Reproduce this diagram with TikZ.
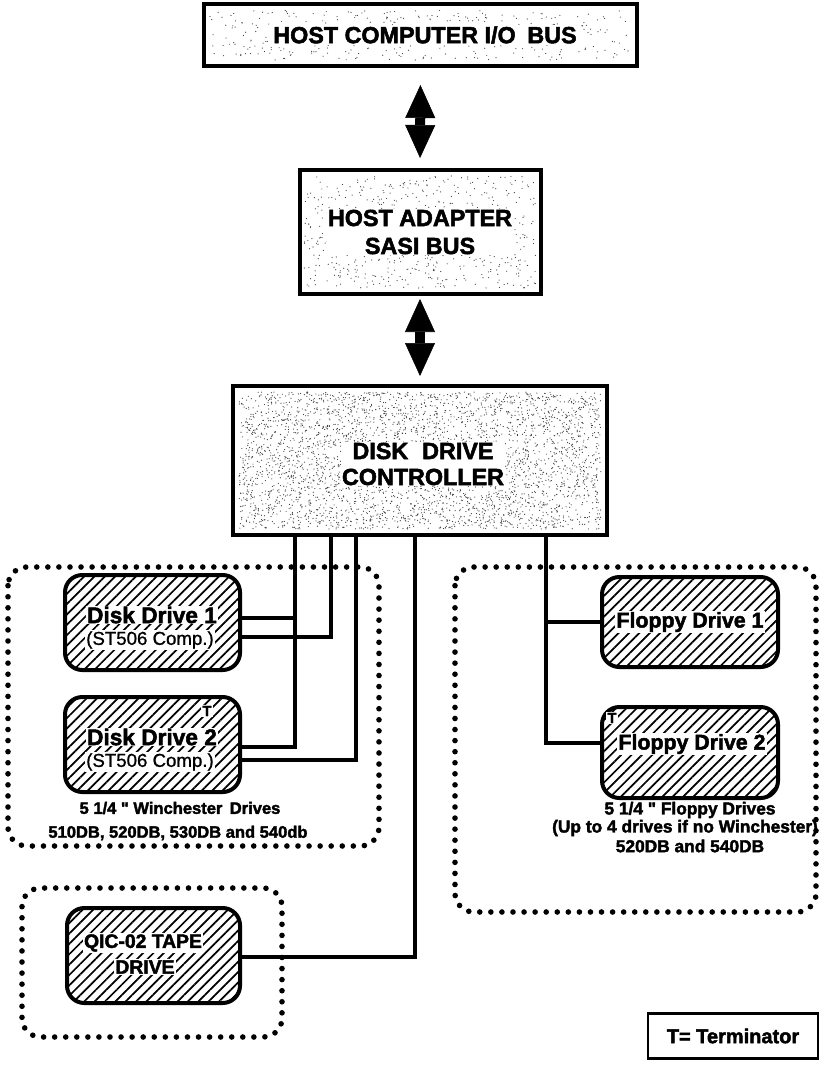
\documentclass[tikz,border=0pt]{standalone}
\usepackage{fontspec}
\setmainfont{Liberation Sans}
\newfontfamily\heavy{Liberation Sans Bold}[FakeBold=2.2]
\newfontfamily\medium{Liberation Sans}[FakeBold=1]
\usetikzlibrary{patterns.meta,calc,arrows.meta}
\newcommand\speckle[5]{%
  \foreach \k in {1,...,#5}{%
    \pgfmathsetmacro\spx{#1+rnd*(#3-#1)}%
    \pgfmathsetmacro\spy{#2+rnd*(#4-#2)}%
    \fill[black!75] (\spx,\spy) circle[radius=0.45pt];
  }}
\begin{document}
\begin{tikzpicture}[x=0.75pt,y=-0.75pt,
  bus/.style={draw, line width=3pt, fill=white, inner sep=0pt},
  hd/.style={font=\heavy\fontsize{17.5}{21}\selectfont, align=center},
  lbl/.style={fill=white, inner sep=0.8pt},
  drive/.style={draw, line width=3pt, rounded corners=13pt,
    pattern={Lines[angle=45,distance=5.5pt,line width=1.3pt]}, inner sep=0pt},
  dname/.style={font=\heavy\fontsize{17}{19}\selectfont},
  dsub/.style={font=\medium\fontsize{14}{16}\selectfont},
  captxt/.style={font=\heavy\fontsize{12.4}{15}\selectfont},
  tmark/.style={font=\heavy\fontsize{11}{12}\selectfont, inner sep=0.5pt},
  conn/.style={line width=2.4pt},
  grp/.style={line width=4.2pt, dash pattern=on 0pt off 8.3pt, line cap=round, rounded corners=14pt},
  dbl/.style={line width=7.5pt,
    {Triangle[length=24.75pt,width=22.5pt,line width=0.4pt]}-{Triangle[length=24.75pt,width=22.5pt,line width=0.4pt]}},
]
\useasboundingbox (0,0) rectangle (821,1065);
\pgfmathsetseed{7}

% dotted group frames
\draw[grp] (8,567) rectangle (379,846);
\draw[grp] (455,567) rectangle (816,912);
\draw[grp] (22,888) rectangle (282,1037);

% host computer bus
\node[bus, minimum width=324.75pt, minimum height=46.5pt] (hostbus) at (420.5,35) {};
\speckle{210}{10}{631}{60}{350}
\node[hd, lbl] (hostbusT) at (425,35) {HOST COMPUTER I/O\hspace{0.5em}BUS};

% host adapter
\node[bus, minimum width=180.75pt, minimum height=93pt] (hostad) at (420,232) {};
\speckle{304}{176}{536}{288}{650}
\node[hd, lbl] (hostadT) at (420,232) {HOST ADAPTER\\SASI BUS};

% controller
\node[bus, minimum width=280.5pt, minimum height=111.75pt] (ctrl) at (420,460.5) {};
\speckle{239}{392}{601}{529}{3800}
\node[hd, lbl, font=\heavy\fontsize{17.5}{19.5}\selectfont] (ctrlT) at (423,464) {DISK\hspace{0.6em}DRIVE\\CONTROLLER};

% double arrows
\draw[dbl, shorten <=12.75pt, shorten >=7.5pt] (hostbus.south) -- (hostad.north);
\draw[dbl, shorten <=2.25pt, shorten >=6pt] (hostad.south) -- (ctrl.north);

% drives
\node[drive, minimum width=131.25pt, minimum height=71.25pt] (dd1) at (152.5,622.5) {};
\node[drive, minimum width=131.25pt, minimum height=71.25pt] (dd2) at (152.5,744.5) {};
\node[drive, minimum width=132pt, minimum height=67.5pt] (fl1) at (690,622) {};
\node[drive, minimum width=132pt, minimum height=68.25pt] (fl2) at (690,752.5) {};
\node[drive, minimum width=129.75pt, minimum height=71.25pt] (tape) at (153.5,955.5) {};

% connectors
\coordinate (v1) at (295,0);
\coordinate (v2) at (331,0);
\coordinate (v3) at (356,0);
\coordinate (v4) at (415,0);
\coordinate (v5) at (546,0);
\coordinate (d1a) at ($(dd1.east)+(0,-4.5)$);
\coordinate (d1b) at ($(dd1.east)+(0,14.5)$);
\coordinate (d2a) at ($(dd2.east)+(0,2.5)$);
\coordinate (d2b) at ($(dd2.east)+(0,15.5)$);
\coordinate (tpa) at ($(tape.east)+(0,1.5)$);
\coordinate (f2a) at ($(fl2.west)+(0,-9.5)$);
\draw[conn, line width=3pt] (ctrl.south -| v1) |- (d2a);
\draw[conn] (v1 |- d1a) -- (d1a);
\draw[conn] (ctrl.south -| v2) |- (d1b);
\draw[conn] (ctrl.south -| v3) |- (d2b);
\draw[conn] (ctrl.south -| v4) |- (tpa);
\draw[conn] (ctrl.south -| v5) |- (f2a);
\draw[conn] (v5 |- fl1.west) -- (fl1.west);

% drive labels
\node[dname, lbl] (dd1a) at (152,615) {Disk Drive 1};
\node[dsub, lbl] (dd1b) at (150,640) {(ST506 Comp.)};
\node[dname, lbl] (dd2a) at (152,737) {Disk Drive 2};
\node[dsub, lbl] (dd2b) at (150,762) {(ST506 Comp.)};
\node[tmark, lbl] (t1) at (207,711) {T};
\node[dname, lbl, font=\heavy\fontsize{16}{18}\selectfont] (fl1a) at (690,622) {Floppy Drive 1};
\node[dname, lbl, font=\heavy\fontsize{16}{18}\selectfont] (fl2a) at (692,744) {Floppy Drive 2};
\node[tmark, lbl] (t2) at (612,718) {T};
\node[dname, lbl, font=\heavy\fontsize{14.5}{16}\selectfont] (tpa1) at (143,943) {QIC-02 TAPE};
\node[dname, lbl, font=\heavy\fontsize{14.5}{16}\selectfont] (tpa2) at (145,967) {DRIVE};

% captions
\node[captxt] (wc1) at (180,808) {5 1/4 "\ Winchester\hspace{0.45em}Drives};
\node[captxt] (wc2) at (178,833) {510DB, 520DB, 530DB and 540db};
\node[captxt, font=\heavy\fontsize{13}{15}\selectfont] (fc1) at (690,810) {5 1/4 "\ Floppy Drives};
\node[captxt, font=\heavy\fontsize{13}{15}\selectfont] (fc2) at (685,828) {(Up to 4 drives if no Winchester)};
\node[captxt, font=\heavy\fontsize{13}{15}\selectfont] (fc3) at (690,846) {520DB and 540DB};

% legend
\node[draw, line width=1.6pt, minimum width=127.5pt, minimum height=33.75pt,
  font=\heavy\fontsize{15}{17}\selectfont] (term) at (733,1036) {T= Terminator};
\end{tikzpicture}
\end{document}
